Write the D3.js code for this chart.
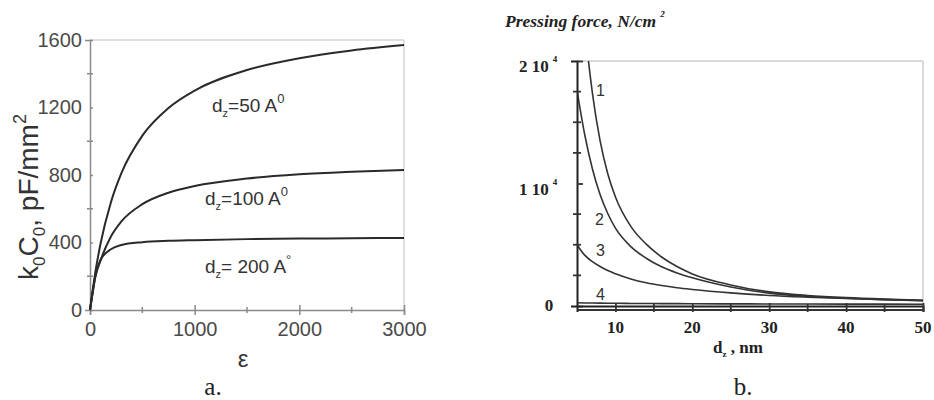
<!DOCTYPE html>
<html>
<head>
<meta charset="utf-8">
<script src="https://cdn.jsdelivr.net/npm/d3@7"></script>
<style>
  html, body { margin: 0; padding: 0; background: #fff; }
  svg { display: block; }
</style>
</head>
<body>
<svg id="chart" width="934" height="400"></svg>
<script>
// ---------------- Panel a data ----------------
const epsValues = [0, 25, 50, 100, 200, 300, 500, 750, 1000, 1500, 2000, 2500, 3000];
const capD50  = [0, 115, 220, 391, 639, 811, 1033, 1197, 1300, 1422, 1492, 1538, 1570];
const capD100 = [0, 100, 192, 292, 436, 525, 627, 695, 735, 779, 804, 819, 830];
const capD200 = [0, 105, 198, 296, 360, 385, 402, 410, 414, 420, 423, 425, 427];
const aXTicks = [0, 1000, 2000, 3000];
const aXMinor = [500, 1500, 2500];
const aYTicks = [0, 400, 800, 1200, 1600];
const aYMinor = [200, 600, 1000, 1400];
const aCurveLabels = [
  {main: "=50 A", sup: "0"},
  {main: "=100 A", sup: "0"},
  {main: "= 200 A", sup: "°"}
];

// ---------------- Panel b data ----------------
const distNm = [5, 6, 7, 8, 9, 10, 12, 14, 16, 18, 20, 25, 30, 35, 40, 45, 50];
const force1 = [31000, 23000, 17400, 13500, 10800, 8900, 6500, 5050, 4000, 3220, 2620, 1720, 1150, 860, 680, 560, 470];
const force2 = [17600, 14000, 11200, 9100, 7550, 6350, 4850, 3900, 3200, 2700, 2300, 1550, 1050, 790, 630, 520, 440];
const force3 = [5000, 4150, 3620, 3220, 2890, 2630, 2210, 1900, 1670, 1490, 1350, 1070, 860, 720, 610, 520, 440];
const force4 = [260, 250, 240, 232, 226, 220, 210, 202, 196, 190, 185, 175, 166, 160, 155, 150, 145];
const bXTicks = [10, 20, 30, 40, 50];
const bXMinor = [15, 25, 35, 45];
const bYMajor = [0, 10000, 20000];
const bYMinor = [2500, 5000, 7500, 12500, 15000, 17500];
const bCurveNames = ["1", "2", "3", "4"];

const svg = d3.select("#chart");

// =============== Panel a ===============
const ax = d3.scaleLinear().domain([0, 3000]).range([90, 404]);
const ay = d3.scaleLinear().domain([0, 1600]).range([310, 40]);
const aCol = "#8a8a8a";
const aText = "#4a4a4a";
const sans = "'Liberation Sans', Arial, sans-serif";
const serif = "'Liberation Serif', 'Times New Roman', serif";

const ga = svg.append("g");
ga.append("line").attr("x1", ax(0)).attr("x2", ax(3000)).attr("y1", ay(1600)).attr("y2", ay(1600))
  .attr("stroke", "#d6d6d6").attr("stroke-width", 1.5);
ga.append("line").attr("x1", ax(3000)).attr("x2", ax(3000)).attr("y1", ay(1600)).attr("y2", ay(0))
  .attr("stroke", "#d6d6d6").attr("stroke-width", 1.5);

const aYAxis = ga.append("g").attr("transform", `translate(${ax(0)},0)`)
  .call(d3.axisLeft(ay).tickValues(aYTicks).tickSize(5).tickPadding(3).tickFormat(d3.format("d")));
aYAxis.selectAll(".tick line").attr("x2", 3);
aYAxis.append("g").selectAll("line").data(aYMinor).join("line")
  .attr("x1", -3).attr("x2", 3).attr("y1", d => ay(d)).attr("y2", d => ay(d));
const aXAxis = ga.append("g").attr("transform", `translate(0,${ay(0)})`)
  .call(d3.axisBottom(ax).tickValues(aXTicks).tickSize(5).tickPadding(7).tickFormat(d3.format("d")));
aXAxis.selectAll(".tick line").attr("y1", -5);
aXAxis.append("g").selectAll("line").data(aXMinor).join("line")
  .attr("x1", d => ax(d)).attr("x2", d => ax(d)).attr("y1", -3).attr("y2", 3);

[aYAxis, aXAxis].forEach(g => {
  g.select(".domain").attr("stroke", aCol).attr("stroke-width", 1.5);
  g.selectAll("line").attr("stroke", aCol).attr("stroke-width", 1.5);
  g.selectAll("text").attr("fill", aText).attr("font-family", sans).attr("font-size", 20);
});

const aLine = d3.line().x((d, i) => ax(epsValues[i])).y(d => ay(d)).curve(d3.curveMonotoneX);
[capD50, capD100, capD200].forEach(s => {
  ga.append("path").attr("d", aLine(s)).attr("fill", "none")
    .attr("stroke", "#2a2a2a").attr("stroke-width", 2);
});

const aLabelPos = [[212, 112], [205, 205], [205, 273]];
aCurveLabels.forEach((lab, i) => {
  const t = ga.append("text").attr("x", aLabelPos[i][0]).attr("y", aLabelPos[i][1])
    .attr("font-family", sans).attr("font-size", 19).attr("fill", "#333");
  t.append("tspan").text("d");
  t.append("tspan").attr("font-size", 11).attr("dy", 5).text("z");
  t.append("tspan").attr("dy", -5).text(lab.main);
  t.append("tspan").attr("font-size", 13).attr("dy", -9).text(lab.sup);
});

ga.append("text").attr("x", 243).attr("y", 367).attr("text-anchor", "middle")
  .attr("font-family", sans).attr("font-size", 24).attr("fill", "#333").text("ε");

const yl = ga.append("text").attr("transform", "translate(38,197) rotate(-90)")
  .attr("text-anchor", "middle").attr("font-family", sans).attr("font-size", 28).attr("fill", "#333");
yl.append("tspan").text("k");
yl.append("tspan").attr("font-size", 17).attr("dy", 7).text("0");
yl.append("tspan").attr("dy", -7).text("C");
yl.append("tspan").attr("font-size", 17).attr("dy", 7).text("0");
yl.append("tspan").attr("dy", -7).text(", pF/mm");
yl.append("tspan").attr("font-size", 18).attr("dy", -12).text("2");

ga.append("text").attr("x", 213).attr("y", 395).attr("text-anchor", "middle")
  .attr("font-family", serif).attr("font-size", 25).attr("fill", "#222").text("a.");

// =============== Panel b ===============
const bx = d3.scaleLinear().domain([5, 50]).range([577, 923]);
const by = d3.scaleLinear().domain([0, 20000]).range([306, 61]);
const gb = svg.append("g");

svg.append("clipPath").attr("id", "clipb").append("rect")
  .attr("x", bx(5)).attr("y", by(20000)).attr("width", bx(50) - bx(5)).attr("height", by(0) - by(20000));

gb.append("line").attr("x1", bx(5)).attr("x2", bx(50)).attr("y1", by(20000)).attr("y2", by(20000))
  .attr("stroke", "#cfcfcf").attr("stroke-width", 1.5);
gb.append("line").attr("x1", bx(50)).attr("x2", bx(50)).attr("y1", by(20000)).attr("y2", by(0))
  .attr("stroke", "#cfcfcf").attr("stroke-width", 1.5);

const bLine = d3.line().x((d, i) => bx(distNm[i])).y(d => by(d)).curve(d3.curveMonotoneX);
const gCurves = gb.append("g").attr("clip-path", "url(#clipb)");
[force1, force2, force3, force4].forEach(s => {
  gCurves.append("path").attr("d", bLine(s)).attr("fill", "none")
    .attr("stroke", "#333").attr("stroke-width", 1.6);
});

const bYAxis = gb.append("g").attr("transform", `translate(${bx(5)},0)`)
  .call(d3.axisLeft(by).tickValues(bYMajor).tickSize(6).tickFormat(""));
bYAxis.selectAll(".tick line").attr("x2", 6);
bYAxis.append("g").selectAll("line").data(bYMinor).join("line")
  .attr("x1", -4).attr("x2", 4).attr("y1", d => by(d)).attr("y2", d => by(d));
const bXAxis = gb.append("g").attr("transform", `translate(0,${by(0)})`)
  .call(d3.axisBottom(bx).tickValues(bXTicks).tickSize(6).tickFormat(""));
bXAxis.selectAll(".tick line").attr("y1", -3);
bXAxis.append("g").selectAll("line").data(bXMinor).join("line")
  .attr("x1", d => bx(d)).attr("x2", d => bx(d)).attr("y1", -2).attr("y2", 6);
bXAxis.append("line").attr("x1", bx(5)).attr("x2", bx(50)).attr("y1", 4).attr("y2", 4);
[bYAxis, bXAxis].forEach(g => {
  g.select(".domain").attr("stroke", "#222").attr("stroke-width", 2);
  g.selectAll("line").attr("stroke", "#333").attr("stroke-width", 1.8);
});

bYMajor.forEach(v => {
  if (v === 0) {
    gb.append("text").attr("x", 549).attr("y", by(v) + 5).attr("text-anchor", "middle")
      .attr("font-family", serif).attr("font-weight", "bold").attr("font-size", 17).attr("fill", "#222").text("0");
  } else {
    const t = gb.append("text").attr("x", 519).attr("y", by(v) + 11)
      .attr("font-family", serif).attr("font-weight", "bold").attr("font-size", 17).attr("fill", "#222");
    t.append("tspan").text(`${v / 10000} 10`);
    t.append("tspan").attr("font-size", 9).attr("dx", 4).attr("dy", -10).text("4");
  }
});
gb.append("g").selectAll("text").data(bXTicks).join("text")
  .attr("x", d => bx(d)).attr("y", by(0) + 27).attr("text-anchor", "middle")
  .attr("font-family", serif).attr("font-weight", "bold").attr("font-size", 17).attr("fill", "#222")
  .text(d => d);

const bxl = gb.append("text").attr("x", 713).attr("y", 353)
  .attr("font-family", serif).attr("font-weight", "bold").attr("font-size", 17).attr("fill", "#222");
bxl.append("tspan").text("d");
bxl.append("tspan").attr("font-size", 9).attr("dy", 4).text("z");
bxl.append("tspan").attr("dy", -4).text(" , nm");

const bt = gb.append("text").attr("x", 505).attr("y", 27)
  .attr("font-family", serif).attr("font-weight", "bold").attr("font-style", "italic")
  .attr("font-size", 17.5).attr("fill", "#222");
bt.append("tspan").text("Pressing force, N/cm");
bt.append("tspan").attr("font-size", 9).attr("dx", 4).attr("dy", -10).text("2");

const bLabelPos = [[596, 96], [595, 225], [596, 256], [596, 300]];
bCurveNames.forEach((n, i) => {
  gb.append("text").attr("x", bLabelPos[i][0]).attr("y", bLabelPos[i][1])
    .attr("font-family", sans).attr("font-size", 16).attr("fill", "#333").text(n);
});

gb.append("text").attr("x", 743).attr("y", 395).attr("text-anchor", "middle")
  .attr("font-family", serif).attr("font-size", 25).attr("fill", "#222").text("b.");
</script>
</body>
</html>
